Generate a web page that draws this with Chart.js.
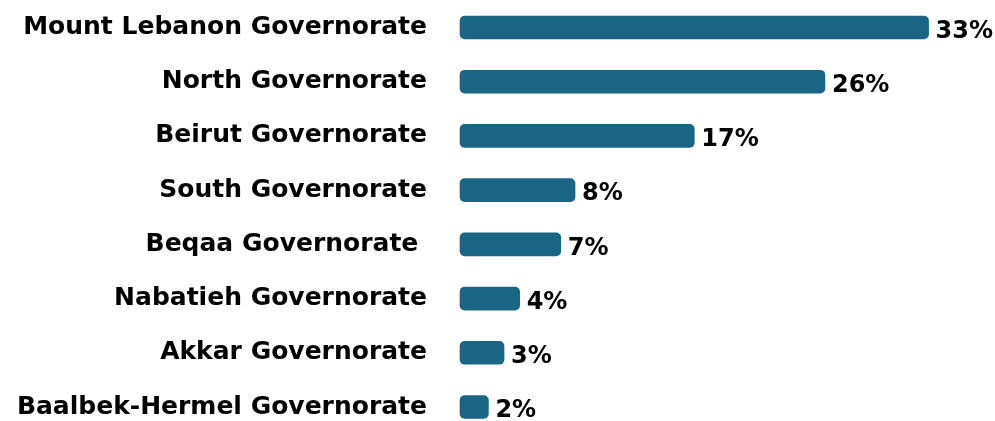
<!DOCTYPE html>
<html>
<head>
<meta charset="utf-8">
<script src="https://cdn.jsdelivr.net/npm/chart.js@4"></script>
<style>
  html, body { margin: 0; padding: 0; background: #fff; }
  #wrap { width: 995px; height: 421px; }
</style>
</head>
<body>
<div id="wrap"><canvas id="govChart"></canvas></div>
<script>
// Data
const governorates = [
    'Mount Lebanon Governorate',
    'North Governorate',
    'Beirut Governorate',
    'South Governorate',
    'Beqaa Governorate ',
    'Nabatieh Governorate',
    'Akkar Governorate',
    'Baalbek-Hermel Governorate'
];
const shares = [33, 25.7, 16.5, 8.1, 7.1, 4.2, 3.1, 2.0];
const shareLabels = ['33%', '26%', '17%', '8%', '7%', '4%', '3%', '2%'];

const FONT = "'DejaVu Sans', sans-serif";

// Value labels at the end of each bar
const endLabels = {
    id: 'endLabels',
    afterDatasetsDraw(chart) {
        const ctx = chart.ctx;
        const meta = chart.getDatasetMeta(0);
        ctx.save();
        ctx.font = 'bold 24px ' + FONT;
        ctx.fillStyle = '#000';
        ctx.textAlign = 'left';
        ctx.textBaseline = 'middle';
        meta.data.forEach((bar, i) => {
            ctx.fillText(shareLabels[i], bar.x + 7, bar.y + 4);
        });
        ctx.restore();
    }
};

new Chart(document.getElementById('govChart'), {
    type: 'bar',
    data: {
        labels: governorates,
        datasets: [{
            data: shares,
            backgroundColor: '#1a6584',
            borderRadius: 5,
            borderSkipped: false,
            barThickness: 23,
            clip: false
        }]
    },
    options: {
        indexAxis: 'y',
        responsive: true,
        maintainAspectRatio: false,
        animation: false,
        layout: { padding: { top: 27.5, bottom: 14, right: 38, left: 0 } },
        plugins: {
            legend: { display: false },
            tooltip: { enabled: false }
        },
        scales: {
            x: {
                display: false,
                min: 0,
                max: 35
            },
            y: {
                offset: false,
                border: { display: false },
                grid: { display: false, drawTicks: false },
                ticks: {
                    color: '#000',
                    padding: 33,
                    font: { family: FONT, size: 25, weight: 'bold' }
                },
                afterFit(scale) {
                    scale.width = 460;
                    scale.paddingTop = 0;
                    scale.paddingBottom = 0;
                }
            }
        }
    },
    plugins: [endLabels]
});
</script>
</body>
</html>
